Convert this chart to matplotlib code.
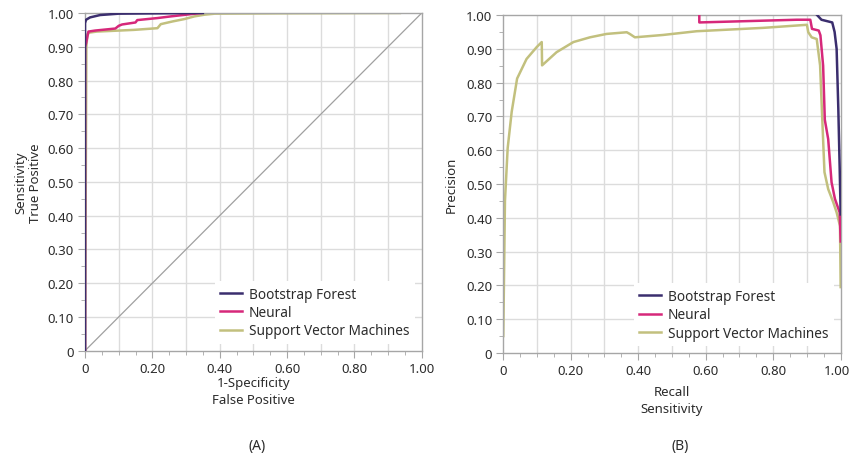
import matplotlib.pyplot as plt
from matplotlib.ticker import MultipleLocator, FuncFormatter
from matplotlib.transforms import ScaledTranslation

plt.rcParams['font.family'] = ['Noto Sans', 'DejaVu Sans']

# ROC curves (x = 1-specificity, y = sensitivity)
bf_fpr = [0, 0.0, 0.003, 0.015, 0.045, 0.10, 0.35]
bf_tpr = [0, 0.97, 0.98, 0.987, 0.994, 0.998, 1.0]
nn_fpr = [0, 0.0, 0.003, 0.01, 0.03, 0.09, 0.10, 0.11, 0.15, 0.155, 0.215, 0.255, 0.30, 0.345]
nn_tpr = [0, 0.90, 0.91, 0.945, 0.948, 0.954, 0.962, 0.966, 0.972, 0.979, 0.985, 0.99, 0.995, 1.0]
svm_fpr = [0, 0.004, 0.007, 0.013, 0.035, 0.145, 0.215, 0.225, 0.26, 0.295, 0.325, 0.355, 0.385, 0.585, 0.935]
svm_tpr = [0, 0.90, 0.937, 0.942, 0.945, 0.95, 0.955, 0.967, 0.975, 0.982, 0.99, 0.995, 0.998, 0.999, 1.0]

# Precision-recall curves
bf_rec = [0.93, 0.943, 0.975, 0.982, 0.988, 0.993, 0.997, 1.0]
bf_prec = [1.0, 0.986, 0.978, 0.95, 0.90, 0.724, 0.55, 0.41]
nn_rec = [0.581, 0.581, 0.87, 0.91, 0.915, 0.935, 0.94, 0.948, 0.953, 0.963, 0.973, 0.983, 0.997, 1.0]
nn_prec = [1.0, 0.978, 0.986, 0.986, 0.959, 0.954, 0.94, 0.85, 0.69, 0.633, 0.505, 0.456, 0.416, 0.33]
svm_rec = [0.0, 0.005, 0.013, 0.025, 0.041, 0.069, 0.099, 0.114, 0.115, 0.158, 0.208, 0.257,
           0.306, 0.366, 0.375, 0.39, 0.474, 0.573, 0.771, 0.90, 0.904, 0.914, 0.929, 0.939,
           0.949, 0.952, 0.963, 0.978, 0.988, 0.998, 1.0]
svm_prec = [0.05, 0.45, 0.606, 0.714, 0.812, 0.87, 0.905, 0.92, 0.851, 0.89, 0.92, 0.934,
            0.944, 0.949, 0.944, 0.934, 0.941, 0.952, 0.962, 0.971, 0.949, 0.934, 0.929, 0.851,
            0.606, 0.535, 0.485, 0.446, 0.416, 0.376, 0.195]

labels = ['Bootstrap Forest', 'Neural', 'Support Vector Machines']
colors = ['#3b2e6e', '#d6287a', '#c2c07e']

text_col = '#2b2b2b'
grid_col = '#dcdcdc'
spine_col = '#a6a6a6'


def fmt(v, pos):
    return '0' if abs(v) < 1e-9 else f'{v:.2f}'


fig = plt.figure(figsize=(8.52, 4.56), dpi=100)
ax1 = fig.add_axes([0.0998, 0.2287, 0.3952, 0.7406])
ax2 = fig.add_axes([0.5907, 0.2237, 0.3960, 0.7412])

for ax in (ax1, ax2):
    ax.set_xlim(0, 1)
    ax.set_ylim(0, 1)
    ax.set_xticks([0, 0.2, 0.4, 0.6, 0.8, 1.0])
    ax.xaxis.set_minor_locator(MultipleLocator(0.05))
    ax.set_yticks([i / 10 for i in range(11)])
    ax.yaxis.set_minor_locator(MultipleLocator(0.05))
    ax.xaxis.set_major_formatter(FuncFormatter(fmt))
    ax.yaxis.set_major_formatter(FuncFormatter(fmt))
    for v in [i / 10 for i in range(1, 10)]:
        ax.axvline(v, color=grid_col, lw=1, zorder=0)
        ax.axhline(v, color=grid_col, lw=1, zorder=0)
    ax.tick_params(which='major', length=5, color=spine_col, labelsize=9.5,
                   labelcolor=text_col, pad=3)
    ax.tick_params(which='minor', length=3, color=spine_col)
    for s in ax.spines.values():
        s.set_color(spine_col)
        s.set_linewidth(1)

ax1.plot([0, 1], [0, 1], color='#a0a0a0', lw=0.9, zorder=1)
ax1.plot(svm_fpr, svm_tpr, color=colors[2], lw=1.8, label=labels[2], zorder=2)
ax1.plot(nn_fpr, nn_tpr, color=colors[1], lw=1.8, label=labels[1], zorder=3)
ax1.plot(bf_fpr, bf_tpr, color=colors[0], lw=1.8, label=labels[0], zorder=4)

ax2.plot(svm_rec, svm_prec, color=colors[2], lw=1.8, label=labels[2], zorder=2)
ax2.plot(nn_rec, nn_prec, color=colors[1], lw=1.8, label=labels[1], zorder=3)
ax2.plot(bf_rec, bf_prec, color=colors[0], lw=1.8, label=labels[0], zorder=4)

for ax in (ax1, ax2):
    h, l = ax.get_legend_handles_labels()
    leg = ax.legend(h[::-1], l[::-1], loc='lower right', bbox_to_anchor=(1.0, 0.0),
                    fontsize=9.8, frameon=True, facecolor='white', edgecolor='none',
                    framealpha=1, fancybox=False, handlelength=1.6, handletextpad=0.5,
                    labelspacing=0.25, borderpad=0.4, borderaxespad=0.5)
    for t in leg.get_texts():
        t.set_color(text_col)
    leg.set_zorder(10)

ax1.set_xlabel('1-Specificity\nFalse Positive', fontsize=9.5, color=text_col,
               labelpad=1, linespacing=1.35)
ax1.set_ylabel('Sensitivity\nTrue Positive', fontsize=9.5, color=text_col, labelpad=4)
ax2.set_xlabel('Recall\nSensitivity', fontsize=9.5, color=text_col,
               labelpad=6, linespacing=1.35)
ax2.set_ylabel('Precision', fontsize=9.5, color=text_col, labelpad=6)

fig.text(257 / 852, 1 - 447 / 456, '(A)', ha='center', va='center', fontsize=10, color=text_col)
fig.text(680 / 852, 1 - 447 / 456, '(B)', ha='center', va='center', fontsize=10, color=text_col)

# nudge the right-most tick label of the PR panel so it stays inside the figure
fig.canvas.draw()
for lbl in ax2.get_xticklabels():
    if lbl.get_text() == '1.00':
        lbl.set_transform(lbl.get_transform() + ScaledTranslation(-3 / 72, 0, fig.dpi_scale_trans))

fig.savefig('out.png', dpi=100, facecolor='white')
